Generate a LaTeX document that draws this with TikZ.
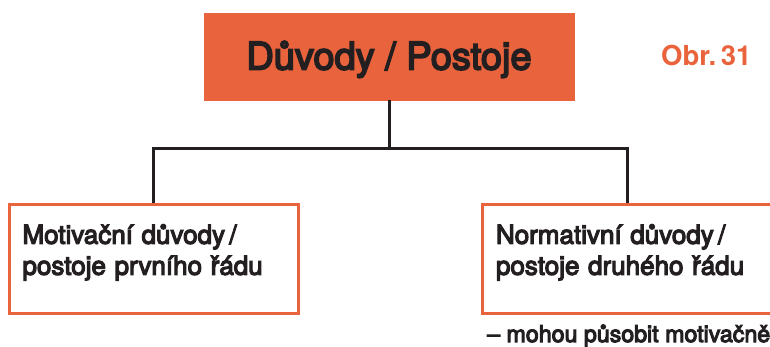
\documentclass[tikz,border=0pt]{standalone}
\usepackage{fontspec}
\setmainfont{TeX Gyre Heros}
\newfontfamily\stredni{TeX Gyre Heros}[FakeBold=4.5]
\usepackage{tikz}
\usetikzlibrary{positioning}
\usepackage{xcolor}
\definecolor{oranzova}{HTML}{E9643D}
\definecolor{cerna}{HTML}{231F20}

\begin{document}
\begin{tikzpicture}[x=1pt,y=-1pt]
% Styly pro krabice a spojnice
\tikzstyle{hlavni}=[fill=oranzova,draw=oranzova,minimum width=370pt,minimum height=87pt,
                    text=cerna,font=\fontsize{38}{42}\stredni,text height=26pt,text depth=0pt]
\tikzstyle{krabice}=[draw=oranzova,line width=3pt,minimum width=289pt,minimum height=109pt,
                     text width=262pt,align=left,inner xsep=13pt,text=cerna,
                     font=\fontsize{26}{31}\stredni]
\tikzstyle{spoj}=[draw=cerna,line width=3pt]
\useasboundingbox (0,0) rectangle (770,346);

% Horni krabice a popisek obrazku
\node[hlavni] (duvody) at (389,56.5) {Důvody / Postoje};
\node[anchor=base west,inner sep=0pt,text=oranzova,font=\fontsize{27.5}{31}\selectfont\bfseries]
     (obr) at (661,65) {Obr.\,31};

% Dve podrizene krabice (prazdny posledni radek posune text nahoru)
\foreach \x/\jmeno/\text in {153.5/motivacni/{Motivační důvody\,/\\postoje prvního řádu\\[-12pt]\mbox{}},
                             627/normativni/{Normativní důvody\,/\\postoje druhého řádu\\[-12pt]\mbox{}}}{
    \node[krabice] (\jmeno) at (\x,259) {\text};
}
\node[anchor=base west,inner sep=0pt,text=cerna,font=\fontsize{23.2}{31}\stredni]
     (pozn) at (487,342) {– mohou působit motivačně};

% Spojnice
\draw[spoj] (duvody.south) -- ++(0,48) coordinate (rozcesti);
\draw[spoj] (motivacni.north) |- (rozcesti) -| (normativni.north);
\end{tikzpicture}
\end{document}
